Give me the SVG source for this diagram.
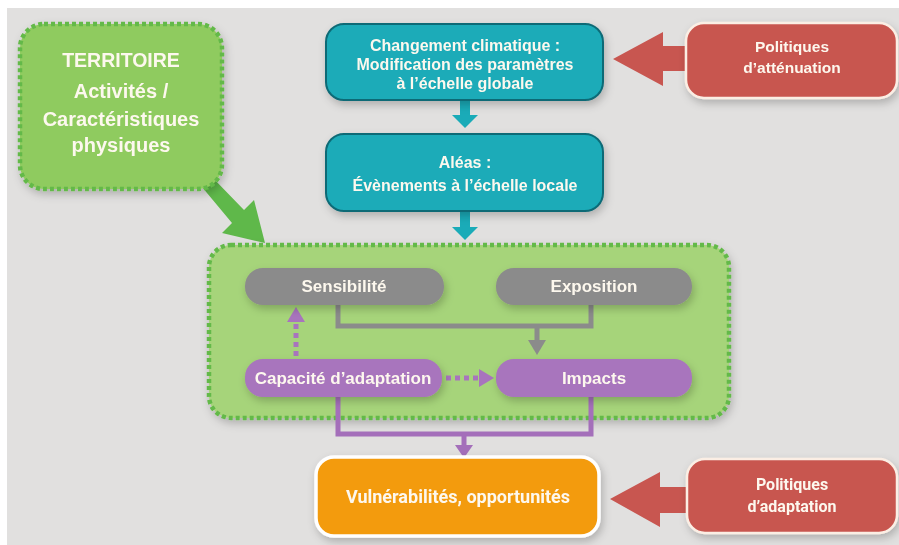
<svg xmlns="http://www.w3.org/2000/svg" width="899" height="545" viewBox="0 0 899 545">
<defs>
<filter id="sh" x="-20%" y="-20%" width="140%" height="150%">
<feDropShadow dx="2" dy="4" stdDeviation="4" flood-color="#000" flood-opacity="0.22"/>
</filter>
<style>
.t{font-family:"Liberation Sans",Arial,sans-serif;font-weight:bold;fill:#fdf8ee;text-anchor:middle}
.r{font-family:Roboto,"Liberation Sans",sans-serif;font-weight:bold;fill:#fdf8ee;text-anchor:middle}
.teal{fill:#1aabb8;stroke:#0e6a76;stroke-width:2}
.gray{fill:#8b8b8b}
.purple{fill:#a874bd}
.red{fill:#c85650;stroke:#fbeee4;stroke-width:2.5}
.dotg{stroke:#63b948;stroke-width:4.5;stroke-dasharray:4 3}
</style>
</defs>
<rect x="0" y="0" width="899" height="545" fill="#ffffff"/>
<rect x="7" y="8" width="892" height="537" fill="#e1e0df"/>

<g id="connectors">
<!-- green arrow from territory -->
<polygon points="202,187 212,177 244,210 254,200 265,243 222,233 232,223" fill="#5fb84a"/>
<!-- teal arrows -->
<rect x="460" y="100" width="10" height="16" fill="#1aabb8"/>
<polygon points="452,115 478,115 465,128" fill="#1aabb8"/>
<rect x="460" y="211" width="10" height="17" fill="#1aabb8"/>
<polygon points="452,227 478,227 465,240" fill="#1aabb8"/>
<!-- red arrows -->
<polygon points="613,59 663,32 663,46 695,46 695,71 663,71 663,86" fill="#c85650"/>
<polygon points="610,499 660,472 660,487 695,487 695,513 660,513 660,527" fill="#c85650"/>
</g>

<g id="territoire" filter="url(#sh)">
<rect x="20" y="24" width="202" height="165" rx="24" fill="#8fcb5e" class="dotg"/>
<text class="t" x="121" y="67" font-size="19.5">TERRITOIRE</text>
<text class="t" x="121" y="98" font-size="20">Activités /</text>
<text class="t" x="121" y="126" font-size="20">Caractéristiques</text>
<text class="t" x="121" y="152" font-size="20">physiques</text>
</g>

<g id="changement" filter="url(#sh)">
<rect x="326" y="24" width="277" height="76" rx="18" class="teal"/>
<text class="t" x="465" y="51" font-size="16">Changement climatique :</text>
<text class="t" x="465" y="70" font-size="16">Modification des paramètres</text>
<text class="t" x="465" y="89" font-size="16">à l’échelle globale</text>
</g>

<g id="aleas" filter="url(#sh)">
<rect x="326" y="134" width="277" height="77" rx="18" class="teal"/>
<text class="t" x="465" y="168" font-size="16">Aléas :</text>
<text class="t" x="465" y="191" font-size="16">Évènements à l’échelle locale</text>
</g>

<g id="attenuation" filter="url(#sh)">
<rect x="686" y="23" width="211" height="75" rx="18" class="red"/>
<text class="t" x="792" y="52" font-size="15.5">Politiques</text>
<text class="t" x="792" y="73" font-size="15.5">d’atténuation</text>
</g>

<g id="contexte" filter="url(#sh)">
<rect x="209" y="245" width="520" height="173" rx="22" fill="#a6d47a" class="dotg"/>
</g>

<g id="connectors-inner">
<path d="M338 305 V326 H591 V305" fill="none" stroke="#8b8b8b" stroke-width="5"/>
<line x1="537" y1="326" x2="537" y2="342" stroke="#8b8b8b" stroke-width="5"/>
<polygon points="528,340 546,340 537,355" fill="#8b8b8b"/>
<line x1="296" y1="356" x2="296" y2="320" stroke="#a874bd" stroke-width="5" stroke-dasharray="5 4"/>
<polygon points="287,322 305,322 296,307" fill="#a874bd"/>
<line x1="446" y1="378" x2="481" y2="378" stroke="#a874bd" stroke-width="5" stroke-dasharray="5 4"/>
<polygon points="479,369 479,387 494,378" fill="#a874bd"/>
<path d="M338 397 V434 H591 V397" fill="none" stroke="#a46fba" stroke-width="5"/>
<line x1="464" y1="434" x2="464" y2="447" stroke="#a46fba" stroke-width="5"/>
<polygon points="455,445 473,445 464,458" fill="#a46fba"/>
</g>

<g id="sensibilite" filter="url(#sh)">
<rect x="245" y="268" width="199" height="37" rx="18" class="gray"/>
<text class="t" x="344" y="292" font-size="17">Sensibilité</text>
</g>

<g id="exposition" filter="url(#sh)">
<rect x="496" y="268" width="196" height="37" rx="18" class="gray"/>
<text class="t" x="594" y="292" font-size="17">Exposition</text>
</g>

<g id="capacite" filter="url(#sh)">
<rect x="245" y="359" width="197" height="38" rx="18" class="purple"/>
<text class="t" x="343" y="384" font-size="17">Capacité d’adaptation</text>
</g>

<g id="impacts" filter="url(#sh)">
<rect x="496" y="359" width="196" height="38" rx="18" class="purple"/>
<text class="t" x="594" y="384" font-size="17">Impacts</text>
</g>

<g id="vulnerabilites" filter="url(#sh)">
<rect x="316" y="457" width="283" height="79" rx="18" fill="#f39b11" stroke="#ffffff" stroke-width="3.5"/>
<text class="r" x="458" y="503" font-size="18">Vulnérabilités, opportunités</text>
</g>

<g id="adaptation" filter="url(#sh)">
<rect x="687" y="459" width="210" height="74" rx="18" class="red"/>
<text class="r" x="792" y="490" font-size="16">Politiques</text>
<text class="r" x="792" y="512" font-size="16">d’adaptation</text>
</g>
</svg>
